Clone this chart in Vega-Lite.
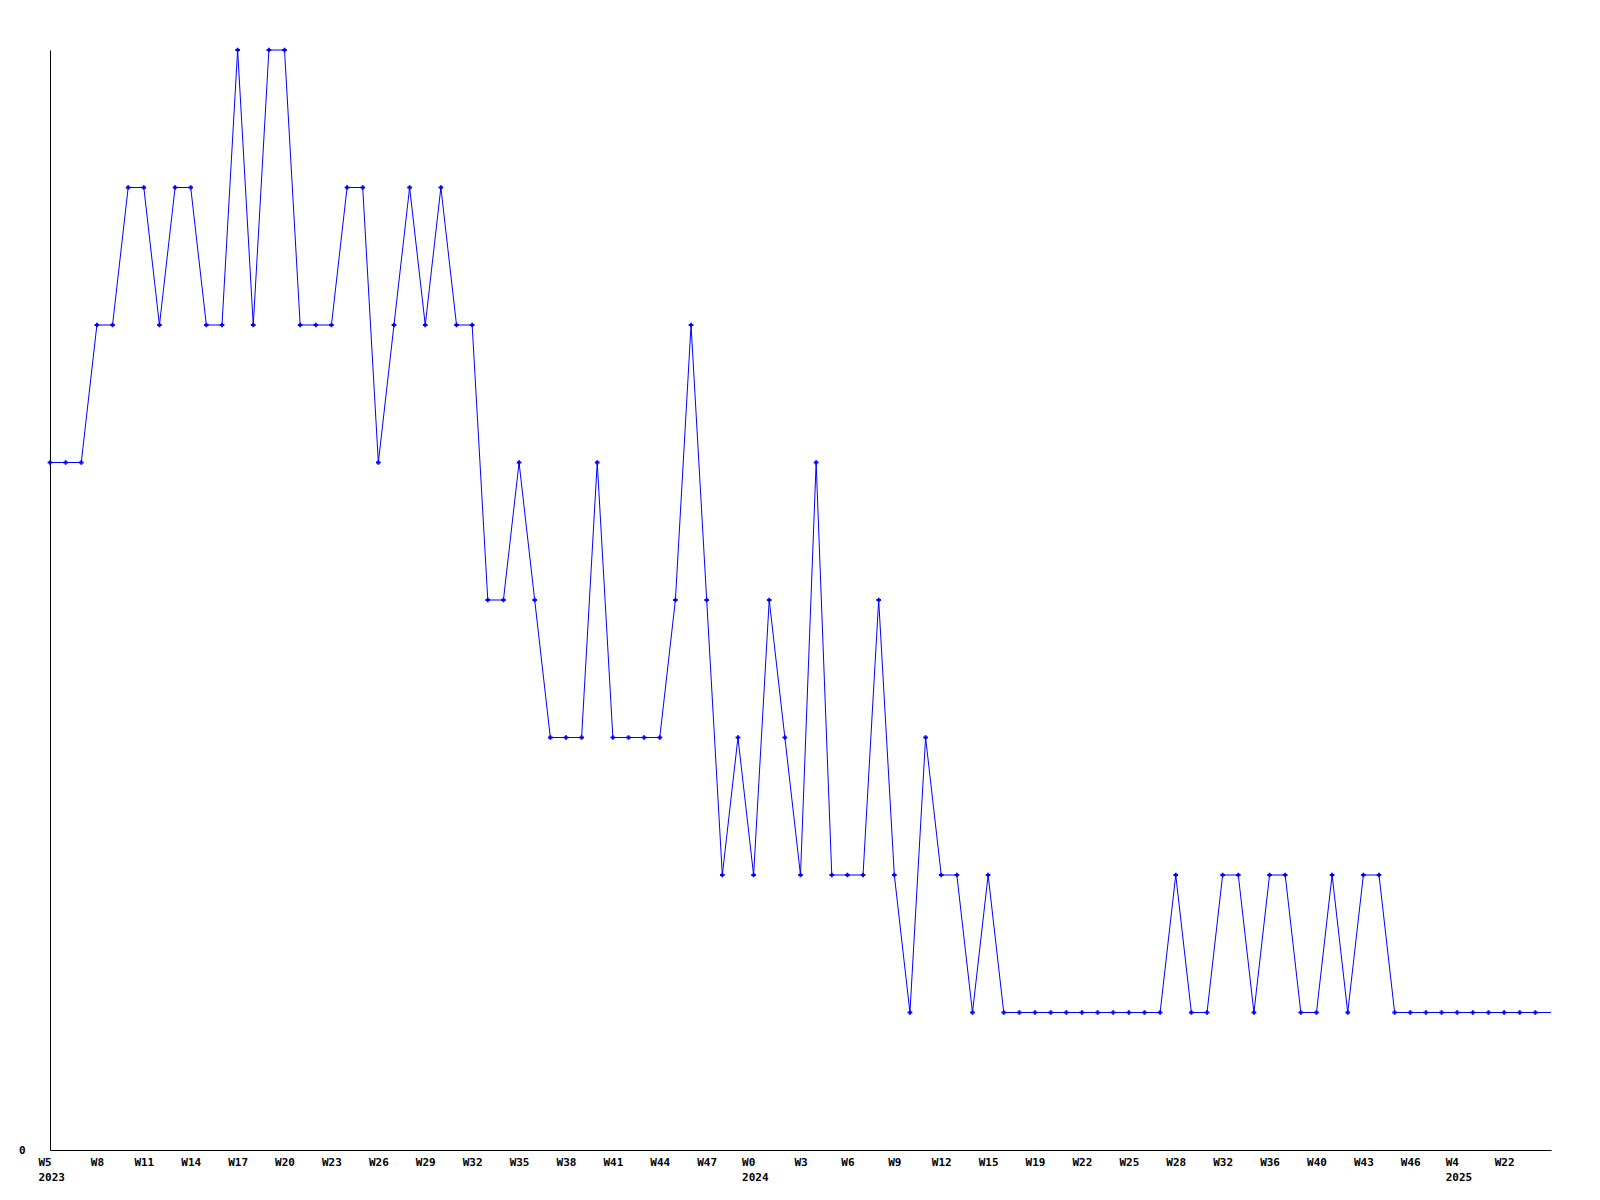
{
  "$schema": "https://vega.github.io/schema/vega-lite/v6.json",
  "width": 1501,
  "height": 1100,
  "autosize": {"type": "none"},
  "padding": {"left": 50, "top": 50, "right": 49, "bottom": 50},
  "background": "white",
  "config": {"view": {"stroke": null}, "font": "DejaVu Sans Mono"},
  "data": {
    "values": [
      {"i": 0, "v": 5}, {"i": 1, "v": 5}, {"i": 2, "v": 5}, {"i": 3, "v": 6}, {"i": 4, "v": 6},
      {"i": 5, "v": 7}, {"i": 6, "v": 7}, {"i": 7, "v": 6}, {"i": 8, "v": 7}, {"i": 9, "v": 7},
      {"i": 10, "v": 6}, {"i": 11, "v": 6}, {"i": 12, "v": 8}, {"i": 13, "v": 6}, {"i": 14, "v": 8},
      {"i": 15, "v": 8}, {"i": 16, "v": 6}, {"i": 17, "v": 6}, {"i": 18, "v": 6}, {"i": 19, "v": 7},
      {"i": 20, "v": 7}, {"i": 21, "v": 5}, {"i": 22, "v": 6}, {"i": 23, "v": 7}, {"i": 24, "v": 6},
      {"i": 25, "v": 7}, {"i": 26, "v": 6}, {"i": 27, "v": 6}, {"i": 28, "v": 4}, {"i": 29, "v": 4},
      {"i": 30, "v": 5}, {"i": 31, "v": 4}, {"i": 32, "v": 3}, {"i": 33, "v": 3}, {"i": 34, "v": 3},
      {"i": 35, "v": 5}, {"i": 36, "v": 3}, {"i": 37, "v": 3}, {"i": 38, "v": 3}, {"i": 39, "v": 3},
      {"i": 40, "v": 4}, {"i": 41, "v": 6}, {"i": 42, "v": 4}, {"i": 43, "v": 2}, {"i": 44, "v": 3},
      {"i": 45, "v": 2}, {"i": 46, "v": 4}, {"i": 47, "v": 3}, {"i": 48, "v": 2}, {"i": 49, "v": 5},
      {"i": 50, "v": 2}, {"i": 51, "v": 2}, {"i": 52, "v": 2}, {"i": 53, "v": 4}, {"i": 54, "v": 2},
      {"i": 55, "v": 1}, {"i": 56, "v": 3}, {"i": 57, "v": 2}, {"i": 58, "v": 2}, {"i": 59, "v": 1},
      {"i": 60, "v": 2}, {"i": 61, "v": 1}, {"i": 62, "v": 1}, {"i": 63, "v": 1}, {"i": 64, "v": 1},
      {"i": 65, "v": 1}, {"i": 66, "v": 1}, {"i": 67, "v": 1}, {"i": 68, "v": 1}, {"i": 69, "v": 1},
      {"i": 70, "v": 1}, {"i": 71, "v": 1}, {"i": 72, "v": 2}, {"i": 73, "v": 1}, {"i": 74, "v": 1},
      {"i": 75, "v": 2}, {"i": 76, "v": 2}, {"i": 77, "v": 1}, {"i": 78, "v": 2}, {"i": 79, "v": 2},
      {"i": 80, "v": 1}, {"i": 81, "v": 1}, {"i": 82, "v": 2}, {"i": 83, "v": 1}, {"i": 84, "v": 2},
      {"i": 85, "v": 2}, {"i": 86, "v": 1}, {"i": 87, "v": 1}, {"i": 88, "v": 1}, {"i": 89, "v": 1},
      {"i": 90, "v": 1}, {"i": 91, "v": 1}, {"i": 92, "v": 1}, {"i": 93, "v": 1}, {"i": 94, "v": 1},
      {"i": 95, "v": 1}, {"i": 96, "v": 1}
    ]
  },
  "encoding": {
    "x": {
      "field": "i",
      "type": "quantitative",
      "scale": {"domain": [0, 96], "nice": false, "zero": false},
      "axis": {
        "values": [0, 3, 6, 9, 12, 15, 18, 21, 24, 27, 30, 33, 36, 39, 42, 45, 48, 51, 54, 57, 60, 63, 66, 69, 72, 75, 78, 81, 84, 87, 90, 93],
        "labelExpr": "[['W5','2023'],'W8','W11','W14','W17','W20','W23','W26','W29','W32','W35','W38','W41','W44','W47',['W0','2024'],'W3','W6','W9','W12','W15','W19','W22','W25','W28','W32','W36','W40','W43','W46',['W4','2025'],'W22'][round(datum.value/3)]",
        "title": null,
        "grid": false,
        "ticks": false,
        "domainColor": "black",
        "domainWidth": 1,
        "labelFont": "DejaVu Sans Mono",
        "labelFontWeight": "bold",
        "labelFontSize": 11,
        "labelColor": "black",
        "labelFlush": false,
        "labelOverlap": false,
        "labelPadding": 6,
        "labelLineHeight": 15,
        "labelBaseline": "top",
        "labelAlign": {"condition": {"test": "datum.value == 0 || datum.value == 45 || datum.value == 90", "value": "left"}, "value": "center"},
        "labelOffset": {"condition": {"test": "datum.value == 0 || datum.value == 45 || datum.value == 90", "value": -12}, "value": 0}
      }
    },
    "y": {
      "field": "v",
      "type": "quantitative",
      "scale": {"domain": [0, 8], "nice": false, "zero": true},
      "axis": {
        "values": [0],
        "title": null,
        "grid": false,
        "ticks": false,
        "domainColor": "black",
        "domainWidth": 1,
        "labelFont": "DejaVu Sans Mono",
        "labelFontWeight": "bold",
        "labelFontSize": 11,
        "labelColor": "black",
        "labelPadding": 25
      }
    }
  },
  "layer": [
    {"mark": {"type": "line", "color": "#0000ff", "strokeWidth": 1}},
    {
      "transform": [{"filter": "datum.i < 96"}],
      "mark": {"type": "point", "shape": "cross", "filled": true, "color": "#0000ff", "size": 22, "opacity": 1}
    }
  ]
}
